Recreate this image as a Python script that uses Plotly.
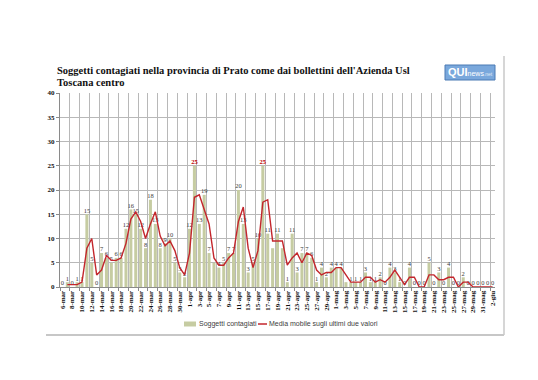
import plotly.graph_objects as go

# ---- data ----
months = [("mar", 6, 31), ("apr", 1, 30), ("mag", 1, 31), ("giu", 1, 2)]
dates = [f"{d}-{m}" for m, a, b in months for d in range(a, b + 1)]

contagiati = [
    # marzo 6..31
    0, 1, 0, 1, 1, 15, 5, 0, 7, 6, 5, 6, 6, 12, 16, 15, 12, 8, 18, 13, 8, 9, 10, 5, 3, 2,
    # aprile 1..30
    12, 25, 13, 19, 7, 5, 4, 5, 7, 7, 20, 13, 3, 5, 10, 25, 11, 8, 11, 8, 1, 11, 3, 7, 7, 6, 1, 4, 2, 4,
    # maggio 1..31
    4, 4, 1, 1, 1, 1, 3, 1, 1, 2, 0, 4, 3, 1, 0, 4, 0, 0, 0, 5, 0, 3, 0, 4, 0, 0, 2, 0, 0, 0, 0,
    # giugno 1..2
    0, 0,
]
hidden_labels = ["6-apr", "18-apr", "20-apr", "3-mag"]
highlight = ["2-apr", "16-apr"]

bar_name = "Soggetti contagiati"
line_name = "Media mobile sugli ultimi due valori"
title_l1 = "Soggetti contagiati nella provincia di Prato come dai bollettini dell'Azienda Usl"
title_l2 = "Toscana centro"

# 2-period moving average (trendline definition)
media = [None] + [(contagiati[i - 1] + contagiati[i]) / 2 for i in range(1, len(contagiati))]

labels, lcolors = [], []
for d, v in zip(dates, contagiati):
    if d in hidden_labels:
        labels.append("")
    elif d in highlight:
        labels.append(f"<b>{v}</b>")
    else:
        labels.append(str(v))
    lcolors.append("#c00000" if d in highlight else "#3a3a3a")

# ---- layout helpers (pixel -> paper) ----
W, H = 538, 380
L, R, T, B = 52, 487, 85, 279
def px(x):
    return (x - L) / (R - L)
def py(y):
    return (B - y) / (B - T)

SERIF = "Liberation Serif, Times New Roman, serif"
NARROW = "Liberation Sans Narrow, Liberation Sans, Arial, sans-serif"
BAR_C = "#c6cca2"
LINE_C = "#c3262c"

fig = go.Figure()
fig.add_trace(go.Bar(x=dates, y=contagiati, marker=dict(color=BAR_C, line=dict(width=0)),
                     name=bar_name, showlegend=False, hoverinfo="x+y"))
fig.add_trace(go.Scatter(x=dates, y=contagiati, mode="text", text=labels,
                         textposition="top center",
                         textfont=dict(family=SERIF, size=6.5, color=lcolors),
                         showlegend=False, hoverinfo="skip", cliponaxis=False))
fig.add_trace(go.Scatter(x=dates, y=media, mode="lines", name=line_name,
                         line=dict(color=LINE_C, width=1.4), showlegend=False,
                         connectgaps=False))

shapes = [
    # chart frame (right and bottom edges)
    dict(type="line", xref="paper", yref="paper", x0=px(38), x1=px(496), y0=py(327), y1=py(327),
         line=dict(color="#b4b4b4", width=1.5)),
    dict(type="line", xref="paper", yref="paper", x0=px(496), x1=px(496), y0=py(48), y1=py(327),
         line=dict(color="#c8c8c8", width=1.5)),
    # legend symbols
    dict(type="rect", xref="paper", yref="paper", x0=px(176), x1=px(188), y0=py(318.5), y1=py(313.5),
         fillcolor=BAR_C, line=dict(width=0)),
    dict(type="line", xref="paper", yref="paper", x0=px(250), x1=px(259), y0=py(316), y1=py(316),
         line=dict(color=LINE_C, width=1.5)),
    # logo box
    dict(type="rect", xref="paper", yref="paper", x0=px(437), x1=px(487), y0=py(72), y1=py(57),
         fillcolor="#7aa8dc", line=dict(color="#4a7ab4", width=1)),
]

annotations = [
    dict(xref="paper", yref="paper", x=px(47), y=py(62), xanchor="left", yanchor="middle",
         text=f"<b>{title_l1}</b>", showarrow=False, align="left",
         font=dict(family=SERIF, size=10.5, color="#111111")),
    dict(xref="paper", yref="paper", x=px(47), y=py(74), xanchor="left", yanchor="middle",
         text=f"<b>{title_l2}</b>", showarrow=False, align="left",
         font=dict(family=SERIF, size=10.5, color="#111111")),
    dict(xref="paper", yref="paper", x=px(189), y=py(316), xanchor="left", yanchor="middle",
         text=bar_name, showarrow=False, font=dict(family=NARROW, size=7, color="#404040")),
    dict(xref="paper", yref="paper", x=px(259), y=py(316), xanchor="left", yanchor="middle",
         text=line_name, showarrow=False, font=dict(family=NARROW, size=7, color="#404040")),
    dict(xref="paper", yref="paper", x=px(462), y=py(64.5), xanchor="center", yanchor="middle",
         text="<b>QUI</b><span style='font-size:7px'>news</span>"
              "<span style='font-size:5px;color:#e0ecf9'>.net</span>",
         showarrow=False, font=dict(family="Liberation Sans, Arial, sans-serif", size=11,
                                    color="#ffffff")),
]

fig.update_layout(
    width=W, height=H,
    margin=dict(l=L, r=W - R, t=T, b=H - B),
    paper_bgcolor="white", plot_bgcolor="white",
    bargap=0.38,
    shapes=shapes, annotations=annotations,
    showlegend=False,
    xaxis=dict(type="category", tickmode="linear", tick0=0, dtick=2, tickson="boundaries",
               tickangle=-90, showgrid=True, gridcolor="#b8b8b8", gridwidth=0.8,
               showline=True, linecolor="#8a8a8a", linewidth=1,
               ticks="outside", ticklen=3, tickcolor="#8a8a8a",
               tickfont=dict(family=SERIF, size=7, color="#111111", weight="bold"),
               range=[-0.5, len(dates) - 0.5]),
    yaxis=dict(range=[0, 40], dtick=5, showgrid=True, gridcolor="#b8b8b8", gridwidth=0.8,
               showline=True, linecolor="#8a8a8a", linewidth=1, zeroline=False,
               ticks="outside", ticklen=3, tickcolor="#8a8a8a",
               tickfont=dict(family=SERIF, size=7, color="#111111", weight="bold")),
)

fig.write_html("out.html")
